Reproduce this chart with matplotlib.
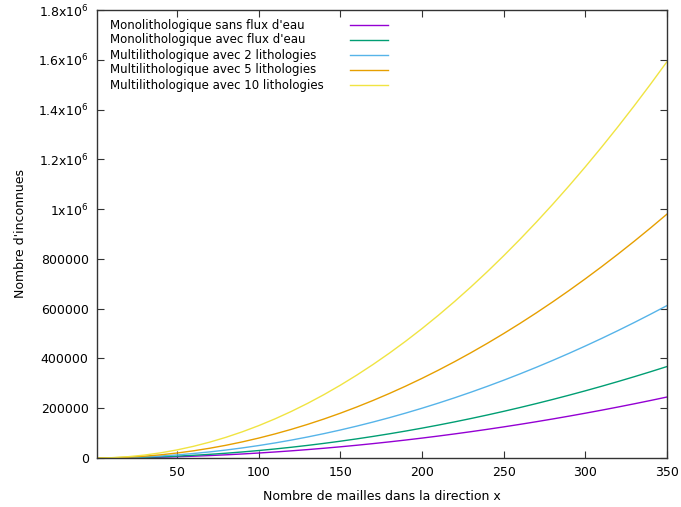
import matplotlib
matplotlib.use("Agg")
import matplotlib.pyplot as plt
from matplotlib.lines import Line2D

x = [1, 10, 20, 30, 40, 50, 60, 70, 80, 90, 100, 110, 120, 130, 140, 150, 160, 170,
     180, 190, 200, 210, 220, 230, 240, 250, 260, 270, 280, 290, 300, 310, 320, 330,
     340, 350]
mono_sans = [2, 200, 800, 1800, 3200, 5000, 7200, 9800, 12800, 16200, 20000, 24200,
             28800, 33800, 39200, 45000, 51200, 57800, 64800, 72200, 80000, 88200,
             96800, 105800, 115200, 125000, 135200, 145800, 156800, 168200, 180000,
             192200, 204800, 217800, 231200, 245000]
mono_avec = [3, 300, 1200, 2700, 4800, 7500, 10800, 14700, 19200, 24300, 30000, 36300,
             43200, 50700, 58800, 67500, 76800, 86700, 97200, 108300, 120000, 132300,
             145200, 158700, 172800, 187500, 202800, 218700, 235200, 252300, 270000,
             288300, 307200, 326700, 346800, 367500]
multi_2 = [5, 500, 2000, 4500, 8000, 12500, 18000, 24500, 32000, 40500, 50000, 60500,
           72000, 84500, 98000, 112500, 128000, 144500, 162000, 180500, 200000, 220500,
           242000, 264500, 288000, 312500, 338000, 364500, 392000, 420500, 450000,
           480500, 512000, 544500, 578000, 612500]
multi_5 = [8, 800, 3200, 7200, 12800, 20000, 28800, 39200, 51200, 64800, 80000, 96800,
           115200, 135200, 156800, 180000, 204800, 231200, 259200, 288800, 320000,
           352800, 387200, 423200, 460800, 500000, 540800, 583200, 627200, 672800,
           720000, 768800, 819200, 871200, 924800, 980000]
multi_10 = [13, 1300, 5200, 11700, 20800, 32500, 46800, 63700, 83200, 105300, 130000,
            157300, 187200, 219700, 254800, 292500, 332800, 375700, 421200, 469300,
            520000, 573300, 629200, 687700, 748800, 812500, 878800, 947700, 1019200,
            1093300, 1170000, 1249300, 1331200, 1415700, 1502800, 1592500]

labels = ["Monolithologique sans flux d'eau",
          "Monolithologique avec flux d'eau",
          "Multilithologique avec 2 lithologies",
          "Multilithologique avec 5 lithologies",
          "Multilithologique avec 10 lithologies"]
colors = ["#9400d3", "#009e73", "#56b4e9", "#e69f00", "#f0e442"]
series = [mono_sans, mono_avec, multi_2, multi_5, multi_10]

xticks = [50, 100, 150, 200, 250, 300, 350]
yticks = [0, 200000, 400000, 600000, 800000, 1000000, 1200000, 1400000, 1600000, 1800000]
yticklabels = ["0", "200000", "400000", "600000", "800000", r"1x10$^6$",
               r"1.2x10$^6$", r"1.4x10$^6$", r"1.6x10$^6$", r"1.8x10$^6$"]

plt.rcParams['font.family'] = ['DejaVu Sans']
plt.rcParams['mathtext.fontset'] = 'dejavusans'

fig = plt.figure(figsize=(6.81, 5.07), dpi=100)
ax = fig.add_axes([97/681, 1 - 458/507, (667-97)/681, (458-10)/507])

for ys, c in zip(series, colors):
    ax.plot(x, ys, color=c, lw=1.0)

ax.set_xlim(1, 350)
ax.set_ylim(0, 1800000)
ax.set_xticks(xticks)
ax.set_xticklabels([str(t) for t in xticks])
ax.set_yticks(yticks)
ax.set_yticklabels(yticklabels)
ax.tick_params(direction='in', length=5, width=0.8, top=True, right=True,
               labelsize=9, pad=6, color='#333333')
for s in ax.spines.values():
    s.set_color('#333333')
    s.set_linewidth(1.0)

ax.set_xlabel("Nombre de mailles dans la direction x", fontsize=9, labelpad=8)
ax.set_ylabel("Nombre d'inconnues", fontsize=9, labelpad=8)

# gnuplot-style key: left-aligned text, sample line to the right
for i, (lab, c) in enumerate(zip(labels, colors)):
    ypix = 25 + i * 15
    yf = 1 - ypix / 507
    fig.text(110/681, yf, lab, fontsize=8.5, ha='left', va='center')
    fig.add_artist(Line2D([350/681, 388/681], [yf, yf], color=c, lw=1.0,
                          transform=fig.transFigure))

fig.savefig("out.png", dpi=100)
